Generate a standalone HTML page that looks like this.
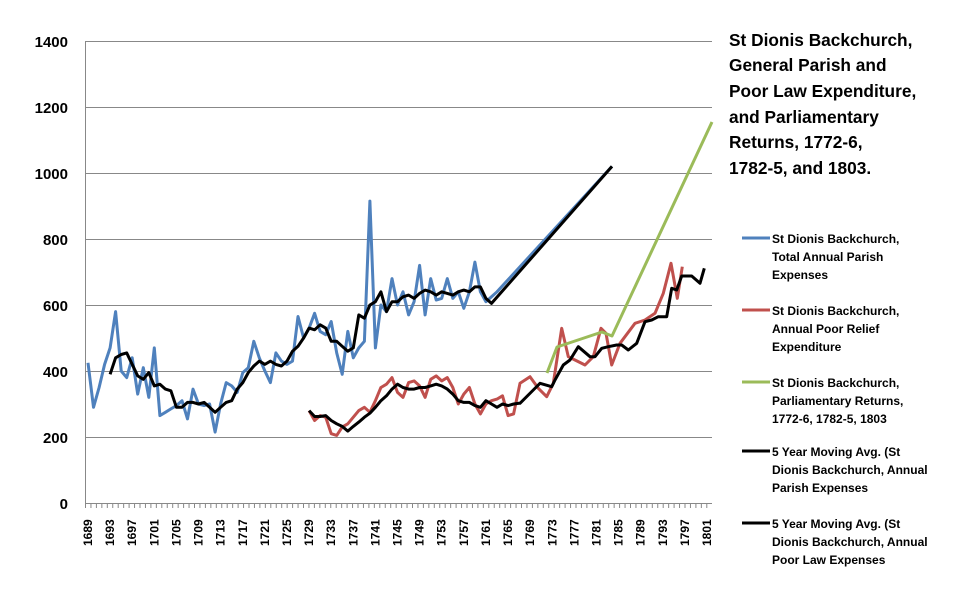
<!DOCTYPE html>
<html><head><meta charset="utf-8"><style>
body{margin:0;background:#fff;}
svg text{font-family:"Liberation Sans",sans-serif;font-weight:bold;}
</style></head><body>
<svg id="s" width="954" height="603" xmlns="http://www.w3.org/2000/svg">
<g stroke="#888" stroke-width="1">
<line x1="85" y1="41.5" x2="712" y2="41.5"/>
<line x1="85" y1="107.5" x2="712" y2="107.5"/>
<line x1="85" y1="173.5" x2="712" y2="173.5"/>
<line x1="85" y1="239.5" x2="712" y2="239.5"/>
<line x1="85" y1="305.5" x2="712" y2="305.5"/>
<line x1="85" y1="371.5" x2="712" y2="371.5"/>
<line x1="85" y1="437.5" x2="712" y2="437.5"/>
<line x1="85" y1="503.5" x2="712" y2="503.5"/>
<line x1="85.5" y1="41" x2="85.5" y2="504"/>
</g>
<g font-size="15" text-anchor="end" fill="#000">
<text x="68" y="47">1400</text><text x="68" y="113">1200</text><text x="68" y="179">1000</text>
<text x="68" y="245">800</text><text x="68" y="311">600</text><text x="68" y="377">400</text>
<text x="68" y="443">200</text><text x="68" y="509">0</text>
</g>
<g id="ticks" stroke="#888" stroke-width="1"></g>
<g id="xl" font-size="12" fill="#000"></g>
<g id="series" fill="none" stroke-width="3" stroke-linejoin="round"></g>
<g font-size="17.3" fill="#000">
<text x="729" y="46">St Dionis Backchurch,</text>
<text x="729" y="71">General  Parish  and</text>
<text x="729" y="97">Poor Law Expenditure,</text>
<text x="729" y="123">and  Parliamentary</text>
<text x="729" y="148">Returns, 1772-6,</text>
<text x="729" y="174">1782-5, and 1803.</text>
</g>
<g font-size="12" fill="#000">
<line x1="742" y1="238" x2="770" y2="238" stroke="#4f81bd" stroke-width="3"/>
<text x="772" y="243">St Dionis Backchurch,</text><text x="772" y="261">Total Annual Parish</text><text x="772" y="279">Expenses</text>
<line x1="742" y1="310" x2="770" y2="310" stroke="#c0504d" stroke-width="3"/>
<text x="772" y="315">St Dionis Backchurch,</text><text x="772" y="333">Annual Poor Relief</text><text x="772" y="351">Expenditure</text>
<line x1="742" y1="382" x2="770" y2="382" stroke="#9bbb59" stroke-width="3"/>
<text x="772" y="387">St Dionis Backchurch,</text><text x="772" y="405">Parliamentary Returns,</text><text x="772" y="423">1772-6, 1782-5,  1803</text>
<line x1="742" y1="451" x2="770" y2="451" stroke="#000" stroke-width="3"/>
<text x="772" y="456">5 Year Moving Avg. (St</text><text x="772" y="474">Dionis Backchurch, Annual</text><text x="772" y="492">Parish Expenses</text>
<line x1="742" y1="523" x2="770" y2="523" stroke="#000" stroke-width="3"/>
<text x="772" y="528">5 Year Moving Avg. (St</text><text x="772" y="546">Dionis Backchurch, Annual</text><text x="772" y="564">Poor Law Expenses</text>
</g>
</svg>
<script>
var NS="http://www.w3.org/2000/svg";
function X(y){return 88+(y-1689)*5.527;}
function Y(v){return 503-v*0.33;}
var t=document.getElementById('ticks'),xl=document.getElementById('xl'),se=document.getElementById('series');
for(var i=0;i<=114;i++){var x=85.5+i*5.45;var l=document.createElementNS(NS,'line');l.setAttribute('x1',x);l.setAttribute('x2',x);l.setAttribute('y1',503);l.setAttribute('y2',508);t.appendChild(l);}
for(var y=1689;y<=1801;y+=4){var tx=document.createElementNS(NS,'text');var x=X(y)+4;tx.setAttribute('transform','translate('+x+',546) rotate(-90)');tx.textContent=y;xl.appendChild(tx);}
function poly(pts,col){var p=document.createElementNS(NS,'polyline');p.setAttribute('points',pts.map(function(a){return a[0].toFixed(1)+','+a[1].toFixed(1)}).join(' '));p.setAttribute('stroke',col);se.appendChild(p);}
function yr(start,vals){return vals.map(function(v,i){return [X(start+i),Y(v)];});}
var blue=yr(1689,[425,290,350,420,470,580,400,380,440,330,410,320,470,265,275,285,295,310,255,345,300,295,300,215,300,365,355,335,395,410,490,440,400,365,455,430,420,430,565,500,530,575,520,510,550,455,390,520,440,470,490,915,470,600,580,680,600,640,570,610,720,570,680,615,620,680,620,640,590,640,730,640,610,625,640]);
blue.push([612,Y(1020)]);
var bma=yr(1693,[390,440,450,455,420,385,375,395,355,360,345,340,290,290,305,305,300,305,290,275,290,305,310,345,365,395,415,430,420,430,420,415,430,460,475,500,530,525,540,530,490,490,475,460,470,570,560,600,610,640,580,610,610,625,630,620,635,645,640,630,640,635,630,640,645,640,655,655,620,605]);
bma.push([612,Y(1020)]);
var red=yr(1729,[280,250,265,260,210,205,230,240,260,280,290,275,310,350,360,380,335,320,365,370,355,320,375,385,370,380,350,300,330,350,300,270,300,310,315,325,265,270]);
var rz=[[0,400],[30,380],[55,415],[80,440],[100,400],[125,235],[145,320],[165,330],[195,345],[220,320],[243,235],[258,250],[275,345],[300,280],[345,220],[375,210],[405,190],[430,130],[453,40],[472,145],[487,50]];
rz.forEach(function(a){red.push([520+a[0]/3,250+a[1]/3]);});
var pma=yr(1729,[280,262,262,265,250,240,232,218,232,245,260,272,290,310,325,345,360,350,345,345,350,350,355,360,355,345,330,310,305,305,295,290,310,300,290,300,295,300,302]);
var kz=[[0,460],[40,420],[60,400],[95,410],[105,390],[130,345],[150,330],[175,290],[210,320],[225,320],[245,295],[265,290],[290,285],[305,285],[325,300],[350,280],[375,215],[395,210],[415,200],[440,200],[455,115],[470,120],[485,78],[515,78],[540,100],[553,55]];
kz.forEach(function(a){pma.push([520+a[0]/3,250+a[1]/3]);});
poly(blue,'#4f81bd');poly(red,'#c0504d');
poly([[547,373],[557,347],[602,332],[612,336],[712,122]],'#9bbb59');
poly(bma,'#000');poly(pma,'#000');
</script>
</body></html>
